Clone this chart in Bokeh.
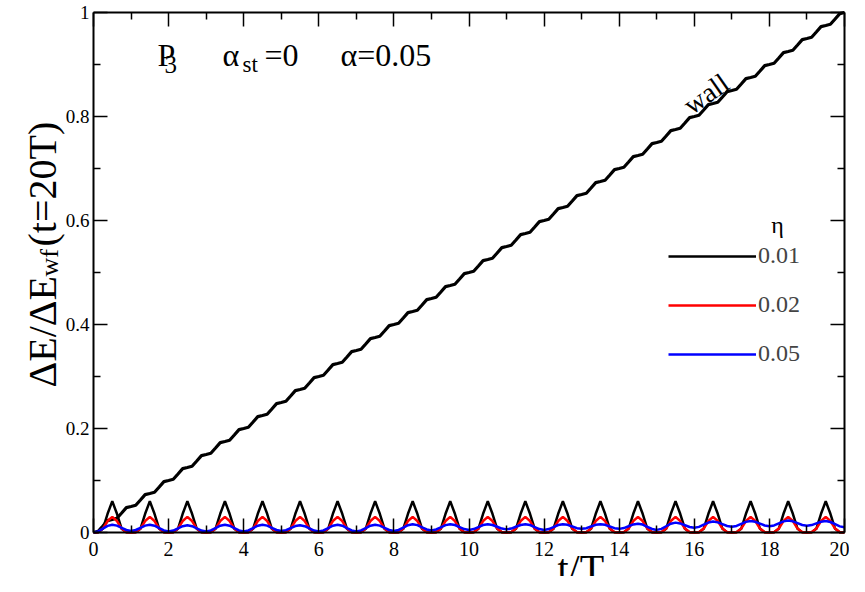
from bokeh.plotting import figure
from bokeh.models import Range1d, FixedTicker, LinearAxis, Label, Legend, LegendItem
from bokeh.embed import file_html
from bokeh.resources import INLINE

# sampling times t/T (step 0.125)
t = [i * 0.125 for i in range(161)]

# wall curve
wall = [
    0, 0.0023, 0.0125, 0.0228, 0.025, 0.0273, 0.0375, 0.0478,
    0.05, 0.0523, 0.0625, 0.0728, 0.075, 0.0773, 0.0875, 0.0978,
    0.1, 0.1023, 0.1125, 0.1228, 0.125, 0.1273, 0.1375, 0.1478,
    0.15, 0.1523, 0.1625, 0.1728, 0.175, 0.1773, 0.1875, 0.1978,
    0.2, 0.2023, 0.2125, 0.2228, 0.225, 0.2273, 0.2375, 0.2478,
    0.25, 0.2523, 0.2625, 0.2728, 0.275, 0.2773, 0.2875, 0.2978,
    0.3, 0.3023, 0.3125, 0.3228, 0.325, 0.3273, 0.3375, 0.3478,
    0.35, 0.3523, 0.3625, 0.3728, 0.375, 0.3773, 0.3875, 0.3978,
    0.4, 0.4023, 0.4125, 0.4228, 0.425, 0.4273, 0.4375, 0.4478,
    0.45, 0.4523, 0.4625, 0.4728, 0.475, 0.4773, 0.4875, 0.4978,
    0.5, 0.5023, 0.5125, 0.5228, 0.525, 0.5273, 0.5375, 0.5478,
    0.55, 0.5523, 0.5625, 0.5728, 0.575, 0.5773, 0.5875, 0.5978,
    0.6, 0.6023, 0.6125, 0.6228, 0.625, 0.6273, 0.6375, 0.6478,
    0.65, 0.6523, 0.6625, 0.6728, 0.675, 0.6773, 0.6875, 0.6978,
    0.7, 0.7023, 0.7125, 0.7228, 0.725, 0.7273, 0.7375, 0.7478,
    0.75, 0.7523, 0.7625, 0.7728, 0.775, 0.7773, 0.7875, 0.7978,
    0.8, 0.8023, 0.8125, 0.8228, 0.825, 0.8273, 0.8375, 0.8478,
    0.85, 0.8523, 0.8625, 0.8728, 0.875, 0.8773, 0.8875, 0.8978,
    0.9, 0.9023, 0.9125, 0.9228, 0.925, 0.9273, 0.9375, 0.9478,
    0.95, 0.9523, 0.9625, 0.9728, 0.975, 0.9773, 0.9875, 0.9978,
    1.0,
]

# eta = 0.01 (black)
eta_001 = [
    0, 0.0005, 0.007, 0.036, 0.06, 0.036, 0.007, 0.0005,
    0, 0.0005, 0.007, 0.036, 0.06, 0.036, 0.007, 0.0005,
    0, 0.0005, 0.007, 0.036, 0.06, 0.036, 0.007, 0.0005,
    0, 0.0005, 0.007, 0.036, 0.06, 0.036, 0.007, 0.0005,
    0, 0.0005, 0.007, 0.036, 0.06, 0.036, 0.007, 0.0005,
    0, 0.0005, 0.007, 0.036, 0.06, 0.036, 0.007, 0.0005,
    0, 0.0005, 0.007, 0.036, 0.06, 0.036, 0.007, 0.0005,
    0, 0.0005, 0.007, 0.036, 0.06, 0.036, 0.007, 0.0005,
    0, 0.0005, 0.007, 0.036, 0.06, 0.036, 0.007, 0.0005,
    0, 0.0005, 0.007, 0.036, 0.06, 0.036, 0.007, 0.0005,
    0, 0.0005, 0.007, 0.036, 0.06, 0.036, 0.007, 0.0005,
    0, 0.0005, 0.007, 0.036, 0.06, 0.036, 0.007, 0.0005,
    0, 0.0005, 0.007, 0.036, 0.06, 0.036, 0.007, 0.0005,
    0, 0.0005, 0.007, 0.036, 0.06, 0.036, 0.007, 0.0005,
    0, 0.0005, 0.007, 0.036, 0.06, 0.036, 0.007, 0.0005,
    0, 0.0005, 0.007, 0.036, 0.06, 0.036, 0.007, 0.0005,
    0, 0.0005, 0.007, 0.036, 0.06, 0.036, 0.007, 0.0005,
    0, 0.0005, 0.007, 0.036, 0.06, 0.036, 0.007, 0.0005,
    0, 0.0005, 0.007, 0.036, 0.06, 0.036, 0.007, 0.0005,
    0, 0.0005, 0.007, 0.036, 0.06, 0.036, 0.007, 0.0005,
    0,
]

# eta = 0.02 (red)
eta_002 = [
    0, 0.0006, 0.0075, 0.022, 0.03, 0.022, 0.0075, 0.0006,
    0, 0.0006, 0.0075, 0.022, 0.03, 0.022, 0.0075, 0.0006,
    0, 0.0006, 0.0075, 0.022, 0.03, 0.022, 0.0075, 0.0006,
    0, 0.0006, 0.0075, 0.022, 0.03, 0.022, 0.0075, 0.0006,
    0, 0.0006, 0.0075, 0.022, 0.03, 0.022, 0.0075, 0.0006,
    0, 0.0006, 0.0075, 0.022, 0.03, 0.022, 0.0075, 0.0006,
    0, 0.0006, 0.0075, 0.022, 0.03, 0.022, 0.0075, 0.0006,
    0, 0.0006, 0.0075, 0.022, 0.03, 0.022, 0.0075, 0.0006,
    0, 0.0006, 0.0075, 0.022, 0.03, 0.022, 0.0075, 0.0006,
    0, 0.0006, 0.0075, 0.022, 0.03, 0.022, 0.0075, 0.0006,
    0, 0.0006, 0.0075, 0.022, 0.03, 0.022, 0.0075, 0.0006,
    0, 0.0006, 0.0075, 0.022, 0.03, 0.022, 0.0075, 0.0006,
    0, 0.0006, 0.0075, 0.022, 0.03, 0.022, 0.0075, 0.0006,
    0, 0.0006, 0.0075, 0.022, 0.03, 0.022, 0.0075, 0.0006,
    0, 0.0006, 0.0075, 0.022, 0.03, 0.022, 0.0075, 0.0006,
    0, 0.0006, 0.0075, 0.022, 0.03, 0.022, 0.0075, 0.0006,
    0, 0.0006, 0.0075, 0.022, 0.03, 0.022, 0.0075, 0.0006,
    0, 0.0006, 0.0075, 0.022, 0.03, 0.022, 0.0075, 0.0006,
    0, 0.0006, 0.0075, 0.022, 0.03, 0.022, 0.0075, 0.0006,
    0, 0.0006, 0.0075, 0.022, 0.03, 0.022, 0.0075, 0.0006,
    0,
]

# eta = 0.05 (blue)
eta_005 = [
    0, 0.0022, 0.0075, 0.0128, 0.015, 0.0132, 0.009, 0.0048,
    0.003, 0.0048, 0.009, 0.0132, 0.015, 0.0131, 0.0085, 0.0039,
    0.002, 0.0038, 0.008, 0.0122, 0.014, 0.0122, 0.008, 0.0038,
    0.002, 0.0039, 0.0085, 0.0131, 0.015, 0.0131, 0.0085, 0.0039,
    0.002, 0.0039, 0.0085, 0.0131, 0.015, 0.0132, 0.009, 0.0048,
    0.003, 0.0046, 0.0085, 0.0124, 0.014, 0.0122, 0.008, 0.0038,
    0.002, 0.0039, 0.0085, 0.0131, 0.015, 0.0131, 0.0085, 0.0039,
    0.002, 0.0039, 0.0085, 0.0131, 0.015, 0.0132, 0.009, 0.0048,
    0.003, 0.0049, 0.0095, 0.0141, 0.016, 0.0142, 0.010, 0.0058,
    0.004, 0.0058, 0.010, 0.0142, 0.016, 0.0144, 0.0105, 0.0066,
    0.005, 0.0066, 0.0105, 0.0144, 0.016, 0.0145, 0.011, 0.0075,
    0.006, 0.0075, 0.011, 0.0145, 0.016, 0.0144, 0.0105, 0.0066,
    0.005, 0.0066, 0.0105, 0.0144, 0.016, 0.0147, 0.0115, 0.0083,
    0.007, 0.0083, 0.0115, 0.0147, 0.016, 0.0147, 0.0115, 0.0083,
    0.007, 0.0085, 0.012, 0.0155, 0.017, 0.0152, 0.011, 0.0068,
    0.005, 0.007, 0.012, 0.017, 0.019, 0.0175, 0.014, 0.0105,
    0.009, 0.0108, 0.015, 0.0192, 0.021, 0.0195, 0.016, 0.0125,
    0.011, 0.0126, 0.0165, 0.0204, 0.022, 0.0205, 0.017, 0.0135,
    0.012, 0.0136, 0.0175, 0.0214, 0.023, 0.0215, 0.018, 0.0145,
    0.013, 0.0143, 0.0175, 0.0207, 0.022, 0.0202, 0.016, 0.0118,
    0.010,
]

x_ticks = [0, 2, 4, 6, 8, 10, 12, 14, 16, 18, 20]
x_minor = [1, 3, 5, 7, 9, 11, 13, 15, 17, 19]
y_ticks = [0, 0.2, 0.4, 0.6, 0.8, 1]
y_minor = [0.1, 0.3, 0.5, 0.7, 0.9]
y_tick_labels = ["0", "0.2", "0.4", "0.6", "0.8", "1"]
legend_labels = ["0.01", "0.02", "0.05"]
series_colors = ["black", "#ff0000", "#0000ff"]

FONT = "Liberation Serif"

# canvas / frame geometry (pixels inside the figure)
W, H = 849, 576
X0_PX, X1_PX = 93, 844      # pixel positions of t=0 and t=20
Y0_PX, Y1_PX = 532, 12      # pixel positions of value 0 and 1
xs = (X1_PX - X0_PX) / 20.0
ys = (Y0_PX - Y1_PX) / 1.0
x_range = Range1d(0 - X0_PX / xs, 20 + (W - X1_PX) / xs)
y_range = Range1d(0 - (H - Y0_PX) / ys, 1 + Y1_PX / ys)

p = figure(width=W, height=H, x_range=x_range, y_range=y_range,
           output_backend="svg", toolbar_location=None,
           x_axis_location=None, y_axis_location=None,
           min_border_left=0, min_border_right=0, min_border_top=0, min_border_bottom=0)
p.xgrid.visible = False
p.ygrid.visible = False
p.outline_line_color = None
p.background_fill_color = "white"
p.border_fill_color = "white"


def make_axis(ticks, minor, loc, bounds, show_labels, size="20px", standoff=5):
    ax = LinearAxis(ticker=FixedTicker(ticks=ticks, minor_ticks=minor),
                    fixed_location=loc, bounds=bounds)
    ax.major_tick_in = 14
    ax.major_tick_out = 0
    ax.minor_tick_in = 7
    ax.minor_tick_out = 0
    ax.major_tick_line_width = 1.5
    ax.minor_tick_line_width = 1.5
    ax.axis_line_width = 2
    ax.major_label_text_font = FONT
    ax.major_label_text_font_size = size
    ax.major_label_standoff = standoff
    if show_labels:
        ax.major_label_text_color = "black"
    else:
        ax.major_label_text_color = None
    return ax


xb = make_axis(x_ticks, x_minor, 0, (0, 20), True, "20px", 9)
p.add_layout(xb, "below")
xt = make_axis(x_ticks, x_minor, 1, (0, 20), False)
p.add_layout(xt, "above")
yl = make_axis(y_ticks, y_minor, 0, (0, 1), True, "19px", 4)
yl.major_label_overrides = {v: s for v, s in zip(y_ticks, y_tick_labels)}
p.add_layout(yl, "left")
yr = make_axis(y_ticks, y_minor, 20, (0, 1), False)
p.add_layout(yr, "right")

p.line(t, wall, line_color="black", line_width=3.2)
r1 = p.line(t, eta_001, line_color=series_colors[0], line_width=2.5)
r2 = p.line(t, eta_002, line_color=series_colors[1], line_width=2.5)
r3 = p.line(t, eta_005, line_color=series_colors[2], line_width=2.5)

legend = Legend(items=[LegendItem(label=legend_labels[0], renderers=[r1]),
                       LegendItem(label=legend_labels[1], renderers=[r2]),
                       LegendItem(label=legend_labels[2], renderers=[r3])],
                location=(668, 209), glyph_width=88, glyph_height=24, label_height=24,
                spacing=22, label_standoff=2, padding=0, margin=0,
                border_line_color=None, background_fill_alpha=0,
                label_text_font=FONT, label_text_font_size="24px")
p.add_layout(legend)


def lab(x, y, text, size, angle=0.0, align="left"):
    p.add_layout(Label(x=x, y=y, text=text, text_font=FONT, text_font_size=size,
                       text_color="black", angle=angle, text_align=align,
                       text_baseline="alphabetic"))


# legend header
lab(18.216, 0.5904, "η", "24px", align="center")
# title texts
lab(1.704, 0.9192, "P", "32px")
lab(1.891, 0.900, "3", "25px")
lab(3.435, 0.9192, "α", "32px")
lab(3.968, 0.900, "st", "23px")
lab(4.554, 0.9192, "=0", "32px")
lab(6.578, 0.9192, "α=0.05", "32px")
# wall label
lab(15.79, 0.817, "wall", "28px", angle=0.61)
# x axis label
lab(12.357, -0.0692, "t/T", "40px")
# y axis label (rotated)
lab(-1.358, 0.2788, "ΔE/ΔE", "40px", angle=1.5708)
lab(-1.172, 0.4923, "wf", "26px", angle=1.5708)
lab(-1.358, 0.550, "(t=20T)", "40px", angle=1.5708)

open("out.html", "w").write(file_html(p, INLINE))
